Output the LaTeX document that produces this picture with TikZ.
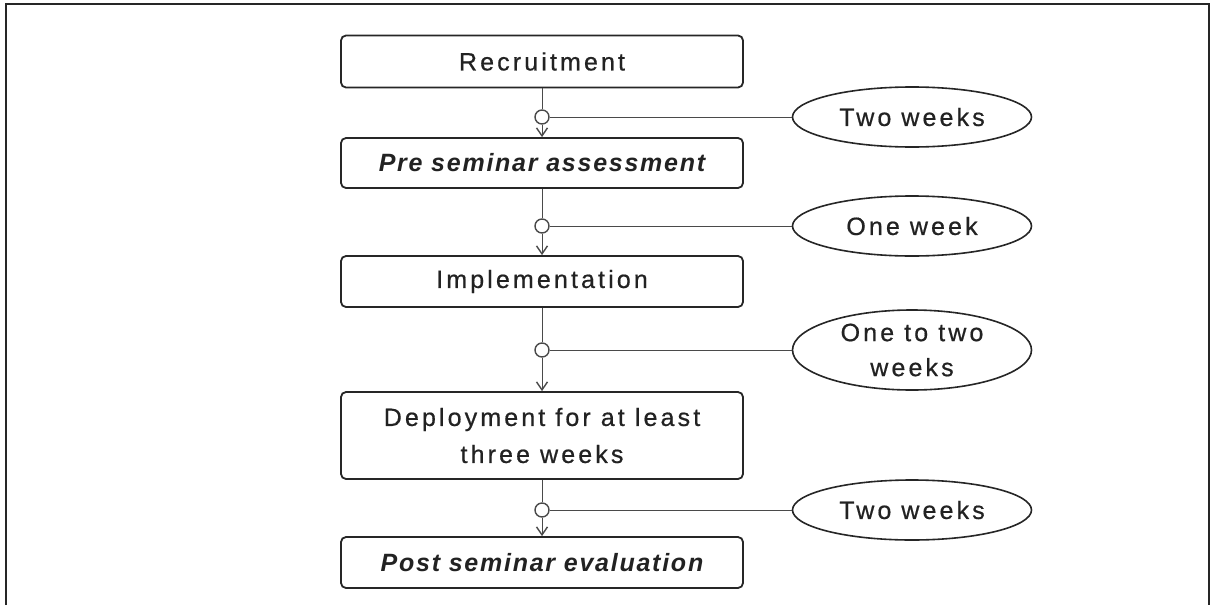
\documentclass[tikz,border=0pt]{standalone}
\usepackage{fontspec}
\setmainfont{Liberation Sans}[LetterSpace=12.5, FakeBold=0.6]
\newfontfamily\bifont{Liberation Sans}[LetterSpace=7]
\usetikzlibrary{shapes.geometric,arrows.meta}
\definecolor{boxc}{HTML}{262626}
\definecolor{linec}{HTML}{4A4A4A}
\definecolor{txt}{HTML}{222222}
\begin{document}
\begin{tikzpicture}[x=1pt,y=-1pt,
  stepbox/.style={draw=boxc, line width=1.8pt, rounded corners=5pt, minimum width=402pt,
    align=center, text=txt, font=\fontsize{25}{37}\selectfont, inner sep=0pt},
  dur/.style={draw=boxc, ellipse, line width=1.6pt, minimum width=239pt, minimum height=60pt,
    inner sep=0pt, align=center, text=txt, font=\fontsize{25}{35}\selectfont},
  circ/.style={circle, draw=linec, line width=1.4pt, minimum size=14pt, inner sep=0pt},
  conn/.style={draw=linec, line width=0.9pt},
  arr/.style={conn, -{Straight Barb[length=8pt,width=11pt,line width=1.4pt]}}
]
\useasboundingbox (0,0) rectangle (1214,605);
\fill[white] (0,0) rectangle (1214,605);
\draw[boxc, line width=2pt] (6,605) -- (6,4) -- (1209,4) -- (1209,605);

\node[stepbox, minimum height=52pt] (rec) at (542,61.5) {Recruitment};
\node[stepbox, minimum height=50pt] (pre) at (542,163) {\bifont\bfseries\itshape Pre seminar assessment};
\node[stepbox, minimum height=51pt] (imp) at (542,281.5) {Implementation};
\node[stepbox, minimum height=87pt] (dep) at (542,435.5) {Deployment for at least\\three weeks};
\node[stepbox, minimum height=51pt] (post) at (542,562.5) {\bifont\bfseries\itshape Post seminar evaluation};

\node[circ] (c1) at (542,117) {};
\node[circ] (c2) at (542,226) {};
\node[circ] (c3) at (542,350) {};
\node[circ] (c4) at (542,510) {};

\node[dur] (e1) at (912,117) {Two\hspace{0.4em}weeks};
\node[dur] (e2) at (912,226) {One week};
\node[dur, minimum height=80pt] (e3) at (912,350) {One to two\\weeks};
\node[dur] (e4) at (912,510) {Two\hspace{0.4em}weeks};

\draw[conn] (rec.south) -- (c1.north);
\draw[arr] (c1.south) -- (pre.north);
\draw[conn] (c1.east) -- (e1.west);

\draw[conn] (pre.south) -- (c2.north);
\draw[arr] (c2.south) -- (imp.north);
\draw[conn] (c2.east) -- (e2.west);

\draw[conn] (imp.south) -- (c3.north);
\draw[arr] (c3.south) -- (dep.north);
\draw[conn] (c3.east) -- (e3.west);

\draw[conn] (dep.south) -- (c4.north);
\draw[arr] (c4.south) -- (post.north);
\draw[conn] (c4.east) -- (e4.west);
\end{tikzpicture}
\end{document}
